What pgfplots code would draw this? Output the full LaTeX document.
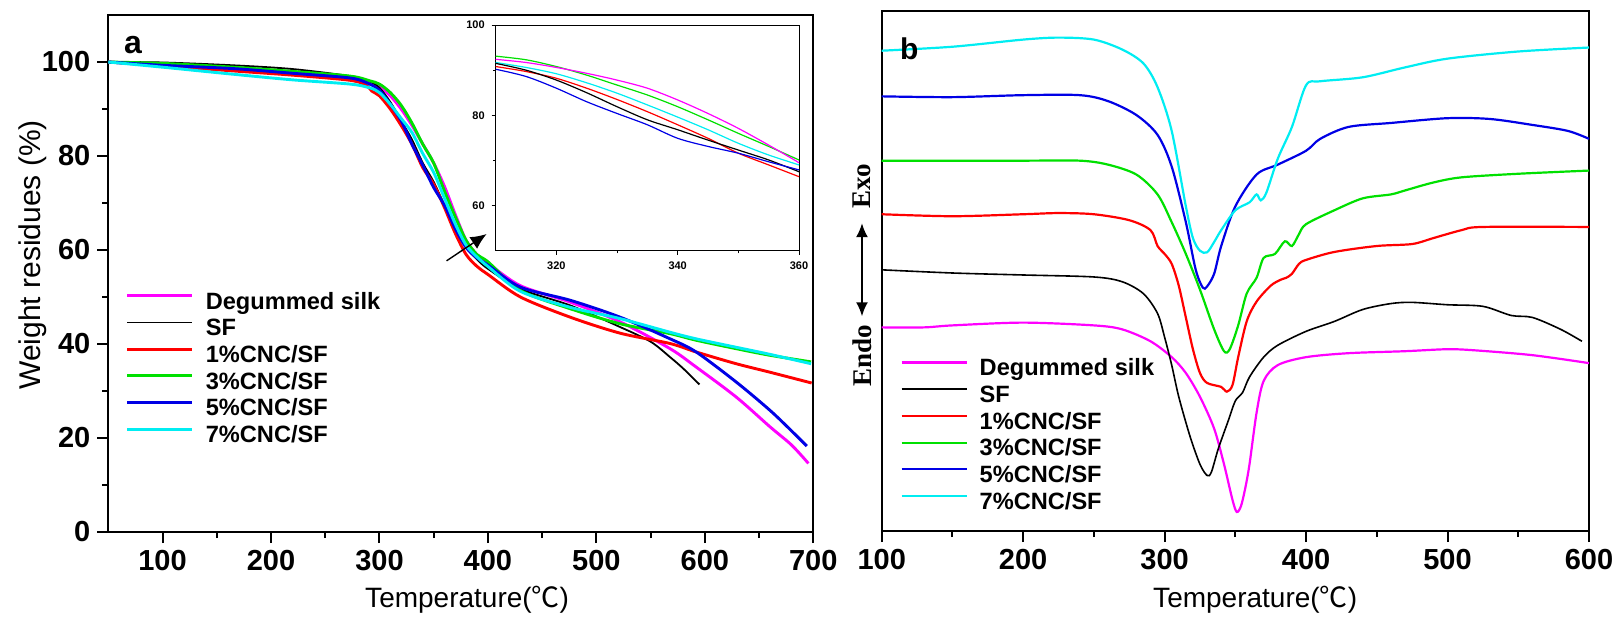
\documentclass[border=0pt]{standalone}
\usepackage{fontspec}
\setmainfont{Liberation Sans}
\newfontfamily\serifb{Liberation Serif}
\newfontfamily\cjk{Noto Sans CJK SC}
\usepackage{pgfplots}
\pgfplotsset{compat=1.18}
\usetikzlibrary{arrows.meta}
\definecolor{cmag}{rgb}{1,0,1}
\definecolor{cred}{rgb}{1,0,0}
\definecolor{cgreen}{rgb}{0,0.88,0}
\definecolor{cblue}{rgb}{0,0,0.9}
\definecolor{ccyan}{rgb}{0,0.93,0.95}
\pgfplotsset{
  common/.style={
    scale only axis, clip=false,
    axis line style={line width=1.1bp},
    every tick/.style={line width=1bp,black},
    tick align=outside, major tick length=5.5bp, minor tick length=3bp,
    xtick pos=bottom, ytick pos=left,
    tick label style={font=\bfseries\fontsize{14.5bp}{14.5bp}\selectfont},
    /pgf/number format/assume math mode=true,
    legend cell align=left,
    legend style={draw=none, fill=none, inner sep=0pt, outer sep=0pt, row sep=0pt, column sep=6bp,
      font=\bfseries\fontsize{11.8bp}{11.8bp}\selectfont,
      nodes={inner sep=0pt, text height=9.5bp, text depth=3.85bp}},
    legend image code/.code={\draw[##1] (0bp,3.8bp) -- (32.5bp,3.8bp);},
  },
  lw/.style={line width=1.45bp},
}
\begin{document}
\begin{tikzpicture}
\path[use as bounding box] (0,0) rectangle (809.5bp,-310.5bp);
% ---------------- panel a ----------------
\begin{axis}[common,
  at={(54.15bp,-266bp)}, anchor=south west,
  width=352.5bp, height=258.5bp,
  xmin=50, xmax=700, ymin=0, ymax=110,
  xtick={100,200,...,700}, ytick={0,20,...,100},
  minor x tick num=1, minor y tick num=1,
  xlabel={Temperature({\cjk ℃})},
  xlabel style={font=\fontsize{14bp}{14bp}\selectfont, at={(rel axis cs:0.509,-0.1315)}, anchor=center},
  ylabel={Weight residues (\%)},
  ylabel style={font=\fontsize{15bp}{15bp}\selectfont, at={(rel axis cs:-0.1078,0.536)}, anchor=center},
  legend style={at={(rel axis cs:0.025,0.468)}, anchor=north west},
]
\addplot[cmag, lw, smooth] coordinates {(50,100) (100,99.2) (165,98.4) (220,97.6) (273,96.5) (290,95.7) (300,94.8) (310,92.8) (320,90) (330,86.5) (340,82.5) (350,78.5) (360,73.5) (370,67.5) (380,62) (390,59) (400,57.2) (430,52.4) (476,48.9) (522,44.7) (568,39.0) (592,35.1) (629,28.7) (660,22.4) (680,18.5) (695.5,14.6)};
\addlegendentry{Degummed silk}
\addplot[black, line width=0.9bp, smooth] coordinates {(50,100) (100,99.9) (165,99.3) (220,98.5) (273,97.0) (290,96.0) (300,94.5) (310,91.5) (320,87.5) (330,83.5) (340,78.5) (350,74.5) (360,69.5) (370,64.5) (380,60.5) (390,58) (400,56.0) (430,51.7) (476,48.2) (522,43.6) (550,40.5) (568,37.2) (580,34.8) (595,31.4)};
\addlegendentry{SF}
\addplot[cred, lw, smooth] coordinates {(50,100) (100,99.2) (165,98.1) (220,97.2) (273,96.1) (288,95.0) (293,93.8) (300,92.8) (310,90.0) (320,86.5) (330,82.5) (340,77.5) (350,74) (360,69) (370,63.5) (380,59) (390,56.5) (400,54.8) (430,50.0) (476,45.7) (522,42.3) (568,40.1) (592,38.3) (629,35.8) (660,34.0) (698.5,31.7)};
\addlegendentry{1\%CNC/SF}
\addplot[cgreen, lw, smooth] coordinates {(50,100) (100,99.7) (165,98.9) (220,98.0) (273,97.0) (291,96.0) (300,95.3) (310,93.5) (320,90.8) (330,87) (340,82.5) (350,78.5) (360,72.5) (370,67) (380,62) (390,59) (400,57.5) (430,51.4) (476,47.5) (522,44.3) (568,42.2) (592,40.8) (629,39.0) (660,37.6) (698,36.2)};
\addlegendentry{3\%CNC/SF}
\addplot[cblue, lw, smooth] coordinates {(50,100) (100,99.3) (165,98.6) (220,97.6) (273,96.6) (290,95.4) (300,94) (310,91) (320,87.5) (330,82.5) (340,78) (350,73.3) (360,69.5) (370,64.5) (380,60.5) (390,58.3) (400,56.8) (430,52.1) (476,49.3) (522,45.7) (568,41.1) (592,38.3) (629,31.9) (660,25.9) (680,21.5) (694,18.3)};
\addlegendentry{5\%CNC/SF}
\addplot[ccyan, lw, smooth] coordinates {(50,100) (100,98.9) (165,97.4) (220,96.2) (273,95.3) (291,94.5) (300,93.5) (310,91) (320,88) (330,85) (340,80.5) (350,76.5) (360,71) (370,65.5) (380,61) (390,58.5) (400,56.5) (430,51.2) (476,47.8) (522,45.4) (568,42.5) (592,41.1) (629,39.3) (660,37.8) (698,35.8)};
\addlegendentry{7\%CNC/SF}
\node[font=\bfseries\fontsize{16bp}{16bp}\selectfont] at (rel axis cs:0.035,0.942) {a};
\draw[line width=0.7bp, -{Latex[length=8bp,width=7bp]}] (axis cs:361.9,57.7) -- (axis cs:398.8,63.4);
\end{axis}
% ---------------- inset ----------------
\begin{axis}[scale only axis,
  at={(247.85bp,-125.35bp)}, anchor=south west,
  width=151.65bp, height=112.85bp,
  xmin=310, xmax=360, ymin=50, ymax=100,
  xtick={320,340,360}, ytick={60,80,100},
  minor x tick num=1, minor y tick num=1,
  axis line style={line width=0.5bp},
  every tick/.style={line width=0.5bp,black},
  tick align=outside, major tick length=2bp, minor tick length=1.3bp,
  xtick pos=bottom, ytick pos=left,
  tick label style={font=\bfseries\fontsize{5.5bp}{5.5bp}\selectfont},
  /pgf/number format/assume math mode=true,
]
\addplot[cgreen, line width=0.6bp, smooth] coordinates {(310,93.1) (315,92.3) (320,90.8) (325,88.9) (330,86.7) (335,84.5) (340,81.9) (345,79.0) (350,76.0) (355,73.1) (360,70.1)};
\addplot[cmag, line width=0.6bp, smooth] coordinates {(310,92.4) (315,91.7) (320,90.6) (325,89.3) (330,87.8) (335,86.0) (340,83.4) (345,80.4) (350,77.1) (355,73.4) (360,69.5)};
\addplot[ccyan, line width=0.6bp, smooth] coordinates {(310,91.7) (315,90.6) (320,89.2) (325,87.2) (330,84.9) (335,82.3) (340,79.6) (345,76.8) (350,73.8) (355,71.2) (360,69.0)};
\addplot[cred, line width=0.6bp, smooth] coordinates {(310,90.8) (315,89.7) (320,88.2) (325,86.0) (330,83.5) (335,80.8) (340,77.9) (345,74.9) (350,71.6) (355,69.0) (360,66.4)};
\addplot[black, line width=0.6bp, smooth] coordinates {(310,91.5) (315,90.0) (320,87.8) (325,85.0) (330,81.9) (335,79.0) (340,76.8) (345,74.5) (350,72.3) (355,70.1) (360,67.5)};
\addplot[cblue, line width=0.6bp, smooth] coordinates {(310,90.2) (315,88.6) (320,86.0) (325,83.0) (330,80.4) (335,77.9) (340,74.9) (345,73.1) (350,71.6) (355,69.7) (360,67.9)};
\end{axis}
% ---------------- panel b ----------------
\begin{axis}[common,
  at={(440.85bp,-265.5bp)}, anchor=south west,
  width=353.65bp, height=260bp,
  xmin=100, xmax=600, ymin=28, ymax=1338, y dir=reverse,
  xtick={100,200,...,600}, ytick=\empty,
  minor x tick num=1,
  xlabel={Temperature({\cjk ℃})},
  xlabel style={font=\fontsize{14bp}{14bp}\selectfont, at={(rel axis cs:0.528,-0.1327)}, anchor=center},
  legend style={at={(rel axis cs:0.0266,0.335)}, anchor=north west},
]
\addplot[cmag, line width=1.1bp, smooth] coordinates {(100,825) (130,825) (150,820) (200,813) (250,820) (270,830) (290,860) (305,900) (315,940) (325,1000) (335,1080) (342,1170) (348,1260) (351,1290) (354,1275) (357,1230) (360,1170) (365,1040) (370,960) (380,920) (400,900) (430,890) (470,885) (500,880) (520,883) (560,895) (600,915)};
\addlegendentry{Degummed silk}
\addplot[black, line width=0.8bp, smooth] coordinates {(100,680) (150,688) (200,693) (250,698) (270,710) (285,740) (295,790) (300,850) (305,920) (310,1000) (318,1100) (325,1170) (330,1198) (333,1190) (338,1130) (345,1060) (350,1010) (355,990) (360,950) (370,900) (380,870) (400,835) (420,810) (440,780) (460,765) (475,762) (500,768) (525,772) (545,795) (560,800) (580,830) (595,860)};
\addlegendentry{SF}
\addplot[cred, line width=1.1bp, smooth] coordinates {(100,540) (150,545) (200,540) (225,537) (250,540) (275,555) (290,580) (295,620) (300,640) (305,665) (310,720) (315,800) (320,880) (325,940) (330,965) (340,975) (344,987) (348,970) (352,900) (358,810) (365,760) (375,720) (382,705) (386,700) (390,690) (395,665) (400,655) (420,635) (450,620) (475,615) (490,600) (510,580) (525,572) (600,572)};
\addlegendentry{1\%CNC/SF}
\addplot[cgreen, line width=1.1bp, smooth] coordinates {(100,405) (200,405) (240,405) (260,415) (280,440) (295,490) (305,560) (315,640) (325,730) (335,830) (342,885) (346,880) (352,820) (358,740) (365,700) (370,650) (378,640) (385,608) (390,620) (395,590) (400,565) (420,530) (440,500) (460,490) (470,480) (490,460) (510,447) (550,438) (600,430)};
\addlegendentry{3\%CNC/SF}
\addplot[cblue, line width=1.1bp, smooth] coordinates {(100,243) (150,245) (200,240) (240,240) (260,255) (280,290) (295,340) (305,420) (315,560) (322,680) (327,725) (330,722) (335,690) (340,620) (350,520) (365,440) (380,415) (400,380) (410,350) (430,320) (460,310) (500,298) (530,300) (560,315) (585,330) (600,350)};
\addlegendentry{5\%CNC/SF}
\addplot[ccyan, line width=1.1bp, smooth] coordinates {(100,128) (150,118) (200,100) (225,95) (250,100) (270,125) (285,160) (295,220) (305,330) (315,520) (320,600) (325,632) (330,636) (335,610) (340,580) (350,530) (360,510) (365,490) (368,505) (372,485) (380,400) (390,320) (400,215) (410,205) (440,195) (470,170) (500,148) (550,130) (600,120)};
\addlegendentry{7\%CNC/SF}
\node[font=\bfseries\fontsize{15bp}{15bp}\selectfont] at (rel axis cs:0.039,0.927) {b};
\draw[line width=0.9bp, {Latex[length=7bp,width=6bp]}-{Latex[length=7bp,width=6bp]}] (rel axis cs:-0.0279,0.592) -- (rel axis cs:-0.0279,0.413);
\node[rotate=90, font=\serifb\bfseries\fontsize{13.5bp}{13.5bp}\selectfont] at (rel axis cs:-0.0279,0.663) {Exo};
\node[rotate=90, font=\serifb\bfseries\fontsize{13.5bp}{13.5bp}\selectfont] at (rel axis cs:-0.0279,0.337) {Endo};
\end{axis}
\end{tikzpicture}
\end{document}
